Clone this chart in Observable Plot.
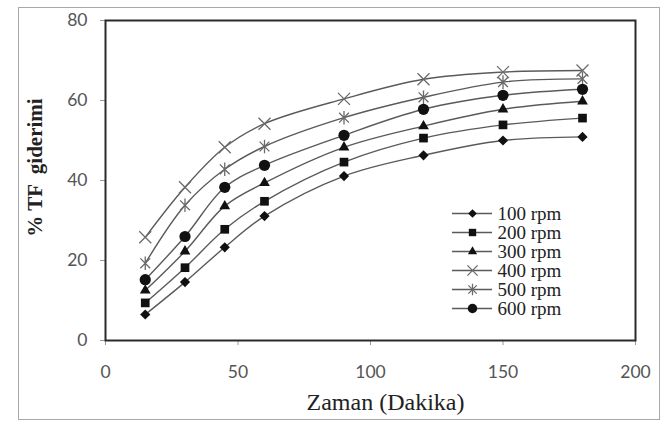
<!DOCTYPE html>
<html>
<head>
<meta charset="utf-8">
<script src="https://cdn.jsdelivr.net/npm/d3@7"></script>
<script src="https://cdn.jsdelivr.net/npm/@observablehq/plot@0.6"></script>
<style>
  html, body { margin: 0; padding: 0; background: #fff; }
  #wrap { position: relative; width: 664px; height: 421px; overflow: hidden; }
  #border { position: absolute; left: 18px; top: 7px; width: 640px; height: 411px; border: 1px solid #a8a8a8; pointer-events: none; }
  svg { display: block; }
</style>
</head>
<body>
<div id="wrap"><div id="border"></div></div>
<script>
// ---- data ----
const times = [15, 30, 45, 60, 90, 120, 150, 180];
const seriesNames = ["100 rpm", "200 rpm", "300 rpm", "400 rpm", "500 rpm", "600 rpm"];
const rpm100 = [6.5, 14.6, 23.3, 31.1, 41.1, 46.3, 50.0, 50.9];
const rpm200 = [9.4, 18.2, 27.8, 34.8, 44.6, 50.6, 53.9, 55.6];
const rpm300 = [12.5, 22.3, 33.6, 39.4, 48.3, 53.6, 57.8, 59.8];
const rpm400 = [25.8, 38.3, 48.3, 54.2, 60.4, 65.3, 67.1, 67.5];
const rpm500 = [19.3, 33.8, 42.8, 48.5, 55.7, 60.8, 64.6, 65.4];
const rpm600 = [15.2, 26.0, 38.3, 43.8, 51.3, 57.8, 61.3, 62.8];
const xTicks = [0, 50, 100, 150, 200];
const yTicks = [0, 20, 40, 60, 80];
const xTitle = "Zaman (Dakika)";
const yTitle = "% TF  giderimi";

// ---- styling ----
const SERIF = "Liberation Serif";
const SANS = "Lato";
const excelStar = {
  draw(ctx, size) {
    const r = Math.sqrt(size / Math.PI);
    const a = r * 0.72;
    ctx.moveTo(0, -r); ctx.lineTo(0, r);
    ctx.moveTo(-a, -a); ctx.lineTo(a, a);
    ctx.moveTo(-a, a); ctx.lineTo(a, -a);
  }
};
const excelX = {
  draw(ctx, size) {
    const a = Math.sqrt(size / Math.PI) * 0.8;
    ctx.moveTo(-a, -a); ctx.lineTo(a, a);
    ctx.moveTo(-a, a); ctx.lineTo(a, -a);
  }
};
const seriesValues = [rpm100, rpm200, rpm300, rpm400, rpm500, rpm600];
const seriesStyle = [
  {symbol: "diamond2", r: 4.6, filled: true},
  {symbol: "square", r: 4.9, filled: true},
  {symbol: "triangle", r: 4.0, filled: true},
  {symbol: excelX, r: 7.5, filled: false},
  {symbol: excelStar, r: 6.8, filled: false},
  {symbol: "circle", r: 5.6, filled: true}
];

const rows = [];
seriesNames.forEach((name, i) => {
  times.forEach((t, j) => rows.push({series: name, t, v: seriesValues[i][j]}));
});

const lineColor = "#5a5a5a";

function dotMark(data, st, opts) {
  return Plot.dot(data, {
    ...opts,
    symbol: st.symbol,
    r: st.r,
    fill: st.filled ? "#111" : "none",
    stroke: st.filled ? "none" : "#6a6a6a",
    strokeWidth: st.filled ? 0 : 1.3
  });
}

const marks = [
  Plot.axisX({ticks: xTicks, tickSize: 5, tickPadding: 20, stroke: "#999", fill: "#555",
              fontSize: 17.5, fontFamily: SANS, label: null}),
  Plot.axisY({ticks: yTicks, tickSize: 5, tickPadding: 13, stroke: "#999", fill: "#555",
              fontSize: 17.5, fontFamily: SANS, label: null}),
  Plot.line(rows, {x: "t", y: "v", z: "series", curve: "catmull-rom", stroke: lineColor, strokeWidth: 1.4}),
];
seriesNames.forEach((name, i) => {
  marks.push(dotMark(rows.filter(d => d.series === name), seriesStyle[i], {x: "t", y: "v"}));
});
marks.push(
  Plot.frame({stroke: "#2a2a2a", strokeWidth: 2}),
  Plot.text([yTitle], {frameAnchor: "left", textAnchor: "middle", rotate: -90, dx: -70, dy: -13,
                       fontSize: 21, fontWeight: "bold", fontFamily: SERIF, fill: "#222", lineAnchor: "middle"}),
  Plot.text([xTitle], {frameAnchor: "bottom", textAnchor: "middle", dx: 15, dy: 62, fontSize: 24,
                       fontFamily: SERIF, fill: "#222", lineAnchor: "middle"})
);

const chart = Plot.plot({
  width: 664, height: 421,
  marginLeft: 105, marginRight: 29, marginTop: 20, marginBottom: 81,
  x: {domain: [0, 200]},
  y: {domain: [0, 80]},
  style: {background: "transparent"},
  marks
});
document.getElementById("wrap").prepend(chart);

// ---- legend ----
const legendMarks = [
  Plot.ruleY(seriesNames, {y: d => d, x1: 0, x2: 1, stroke: lineColor, strokeWidth: 1.4})
];
seriesNames.forEach((name, i) => {
  const st = seriesStyle[i];
  legendMarks.push(dotMark([name], {...st, r: st.r * 0.85}, {x: 0.5, y: d => d}));
});
legendMarks.push(Plot.text(seriesNames, {x: 1, y: d => d, text: d => d, dx: 5, textAnchor: "start",
  fontSize: 19, fontFamily: SERIF, fill: "#222", lineAnchor: "middle"}));

const legend = Plot.plot({
  width: 160, height: 140, margin: 0,
  x: {domain: [0, 1], range: [12, 52], axis: null},
  y: {type: "point", domain: seriesNames, range: [12, 128], axis: null},
  style: {background: "transparent", overflow: "visible"},
  marks: legendMarks
});
legend.style.position = "absolute";
legend.style.left = "440px";
legend.style.top = "190px";
document.getElementById("wrap").appendChild(legend);
</script>
</body>
</html>
